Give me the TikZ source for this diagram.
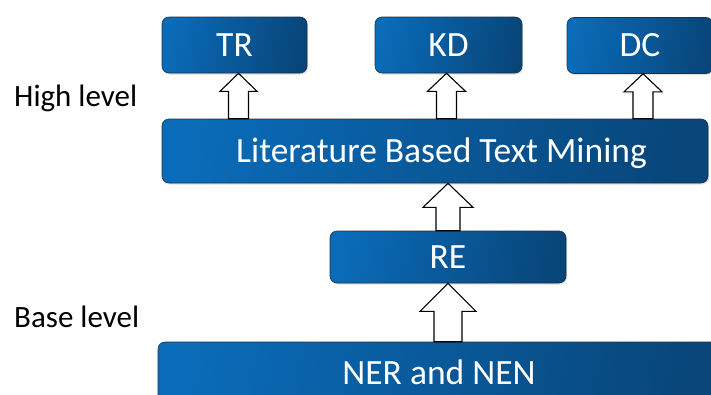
\documentclass[tikz,border=0pt]{standalone}
\usepackage{fontspec}
\setmainfont{Carlito}
\usetikzlibrary{calc,shadows}
\definecolor{boxL}{HTML}{0A6BB8}
\definecolor{boxR}{HTML}{08467A}
\definecolor{boxEdge}{HTML}{1C3048}
\tikzset{
  bluebox/.style={draw=boxEdge, line width=0.6pt, rounded corners=7pt,
    left color=boxL, right color=boxR, shading angle=80,
    drop shadow={opacity=0.25, shadow xshift=1pt, shadow yshift=-1.5pt},
    text=white, font=\fontsize{35.5}{37}\selectfont,
    text height=22.5pt, text depth=0pt, inner sep=0pt, anchor=center},
  levellabel/.style={font=\fontsize{31}{33}\selectfont, text=black, anchor=base west, inner sep=0pt},
  barrow/.style={draw=black, fill=white, line width=1.1pt, line join=miter}
}
\newcommand{\blkarrow}[6]{% lower, upper, x offset, shaft half, head half, head length
  \draw[barrow] let \p1=($(#2.south)+(#3,0)$), \p2=(#1.north) in
    (\x1-#4,\y2) -- (\x1-#4,\y1-#6) -- (\x1-#5,\y1-#6) -- (\x1,\y1)
    -- (\x1+#5,\y1-#6) -- (\x1+#4,\y1-#6) -- (\x1+#4,\y2) -- cycle;}
\begin{document}
\begin{tikzpicture}[x=1pt,y=-1pt]
\useasboundingbox (0,0) rectangle (711,394);
\clip (0,0) rectangle (711,394);
\node[bluebox, minimum width=145pt, minimum height=56pt] (tr) at (234.5,45) {TR};
\node[bluebox, minimum width=147pt, minimum height=56pt] (kd) at (448.5,45) {KD};
\node[bluebox, minimum width=146pt, minimum height=56pt] (dc) at (640,45.5) {DC};
\node[bluebox, minimum width=546pt, minimum height=64pt] (lit) at (435,151) {\hspace*{13pt}Literature Based Text Mining};
\node[bluebox, minimum width=236pt, minimum height=52pt] (re) at (448,257) {RE};
\node[bluebox, minimum width=562pt, minimum height=62pt] (ner) at (439,373) {NER and NEN};
\node[levellabel] (high) at (14,106) {High level};
\node[levellabel] (base) at (14,327) {Base level};
\blkarrow{lit}{tr}{4pt}{10pt}{18.5pt}{18pt}
\blkarrow{lit}{kd}{-2pt}{10pt}{19pt}{18pt}
\blkarrow{lit}{dc}{3pt}{10pt}{19pt}{18pt}
\blkarrow{re}{lit}{13pt}{12pt}{25pt}{24pt}
\blkarrow{ner}{re}{0pt}{14pt}{28pt}{28pt}
\end{tikzpicture}
\end{document}
